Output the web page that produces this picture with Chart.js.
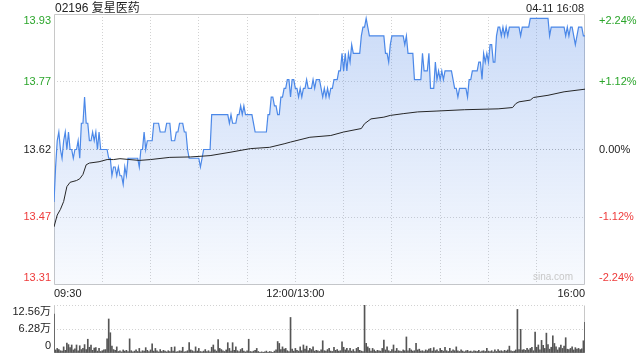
<!DOCTYPE html>
<html><head><meta charset="utf-8">
<script src="https://cdn.jsdelivr.net/npm/chart.js@4.4.0/dist/chart.umd.min.js"></script>
<style>
html,body{margin:0;padding:0;background:#fff;width:640px;height:360px;overflow:hidden;}
#wrap{position:relative;width:640px;height:360px;font-family:"Liberation Sans",Arial,"Noto Sans CJK SC",sans-serif;}
#c1{position:absolute;left:0;top:0;}
#c2{position:absolute;left:0;top:298px;}
.t{position:absolute;color:#222;white-space:nowrap;line-height:14px;}
</style></head><body>
<div id="wrap">
<canvas id="c1" width="640" height="300"></canvas>
<canvas id="c2" width="640" height="62"></canvas>
<div class="t" style="left:55px;top:1px;font-size:12px;">02196 复星医药</div>
<div class="t" style="right:56px;top:1px;font-size:11px;">04-11 16:08</div>
<div class="t" style="right:67px;top:271px;font-size:10px;line-height:12px;color:#c8c8c8;">sina.com</div>
</div>
<script>
// ---- data ----
const price = [
13.50,13.58,13.64,13.66,13.62,13.60,13.64,13.66,13.62,13.66,
13.62,13.62,13.60,13.62,13.62,13.64,13.60,13.68,13.68,13.74,
13.68,13.68,13.64,13.64,13.66,13.64,13.66,13.62,13.66,13.62,
13.62,13.62,13.62,13.62,13.60,13.60,13.56,13.58,13.58,13.56,
13.58,13.56,13.56,13.54,13.58,13.56,13.60,13.60,13.60,13.60,
13.60,13.60,13.60,13.58,13.62,13.62,13.66,13.62,13.64,13.64,
13.64,13.64,13.68,13.68,13.68,13.68,13.66,13.66,13.66,13.66,
13.68,13.68,13.68,13.64,13.64,13.64,13.66,13.66,13.68,13.68,
13.68,13.66,13.66,13.62,13.60,13.60,13.60,13.60,13.60,13.60,
13.60,13.58,13.60,13.62,13.62,13.62,13.62,13.62,13.70,13.70,
13.70,13.70,13.70,13.70,13.70,13.70,13.70,13.70,13.70,13.68,
13.70,13.68,13.68,13.68,13.70,13.70,13.72,13.70,13.72,13.70,
13.70,13.70,13.70,13.70,13.68,13.66,13.66,13.66,13.66,13.66,
13.66,13.66,13.66,13.70,13.70,13.74,13.74,13.72,13.72,13.70,
13.70,13.74,13.74,13.76,13.76,13.78,13.78,13.74,13.78,13.78,
13.76,13.76,13.74,13.76,13.74,13.76,13.76,13.78,13.76,13.76,
13.76,13.78,13.76,13.78,13.78,13.78,13.76,13.74,13.76,13.74,
13.76,13.74,13.76,13.76,13.78,13.78,13.78,13.80,13.80,13.84,
13.80,13.84,13.80,13.84,13.82,13.86,13.84,13.84,13.84,13.84,
13.84,13.88,13.90,13.90,13.92,13.90,13.88,13.88,13.88,13.88,
13.88,13.88,13.88,13.88,13.88,13.88,13.84,13.84,13.82,13.86,
13.88,13.88,13.88,13.88,13.88,13.88,13.88,13.88,13.86,13.88,
13.84,13.84,13.84,13.84,13.78,13.78,13.78,13.78,13.78,13.84,
13.80,13.80,13.80,13.84,13.76,13.76,13.76,13.82,13.78,13.80,
13.78,13.80,13.78,13.80,13.80,13.80,13.80,13.80,13.78,13.76,
13.76,13.74,13.76,13.76,13.76,13.76,13.76,13.74,13.78,13.78,
13.80,13.80,13.80,13.80,13.82,13.82,13.78,13.84,13.82,13.84,
13.82,13.86,13.86,13.82,13.82,13.88,13.90,13.90,13.88,13.90,
13.88,13.90,13.88,13.90,13.90,13.90,13.90,13.90,13.90,13.90,
13.88,13.90,13.90,13.90,13.90,13.90,13.92,13.92,13.92,13.92,
13.92,13.92,13.92,13.92,13.92,13.92,13.92,13.92,13.88,13.90,
13.90,13.90,13.90,13.90,13.90,13.90,13.90,13.90,13.88,13.90,
13.88,13.90,13.90,13.88,13.86,13.88,13.90,13.90,13.90,13.88,
13.88
];
const avgMinute = [0,2,4,6,8,10,14,16,18,20,22,28,33,37,41,53,60,72,85,97,110,122,134,143,147,159,172,180,191,193,197,205,209,217,226,238,255,276,285,287,289,296,298,307,317,330];
const avgPrice  = [13.443,13.47,13.483,13.501,13.535,13.545,13.549,13.553,13.563,13.585,13.589,13.592,13.597,13.597,13.599,13.595,13.597,13.602,13.603,13.606,13.614,13.622,13.625,13.633,13.637,13.648,13.652,13.66,13.668,13.679,13.69,13.694,13.698,13.702,13.706,13.708,13.711,13.713,13.716,13.725,13.729,13.733,13.739,13.744,13.752,13.758];
const volume = [
10.2,0.8,1.2,0.9,0.6,0.5,1.6,0.7,2.6,2.2,
1.4,2.1,0.8,1.1,2.1,0.6,1.9,0.9,1.2,2.2,
0.9,3.6,1.5,2.1,0.7,1.3,1.4,0.5,1.2,0.4,
0.6,0.8,0.9,3.7,8.9,5.3,1.8,0.9,0.7,1.6,
0.4,0.6,0.3,0.8,0.5,0.7,0.4,3.7,0.6,0.3,
0.5,0.8,0.4,1.2,0.3,0.6,0.5,1.4,0.7,0.4,
0.8,2.4,0.5,1.2,0.6,0.3,0.9,0.4,0.7,0.5,
0.3,0.6,0.4,1.5,0.5,1.6,0.3,0.4,0.6,0.5,
1.5,0.3,0.4,0.6,2.7,0.8,0.6,0.4,1.6,0.5,
1.2,0.4,0.3,0.5,0.9,0.4,0.6,0.3,1.5,2.1,
0.8,0.5,3.5,1.2,0.9,0.6,0.4,0.8,2.7,1.2,
0.5,2.7,0.7,1.6,0.6,0.4,0.9,1.2,0.5,0.3,
0.6,3.6,0.4,0.3,0.5,0.7,1.2,0.4,0.2,0.3,
0.2,0.3,0.5,0.2,0.4,0.3,0.2,0.5,0.8,3.0,
2.5,0.9,1.6,1.0,1.2,0.6,0.4,9.3,1.0,0.5,
1.2,0.7,0.5,1.6,0.6,2.1,1.0,1.8,0.6,1.2,
0.9,1.6,0.5,0.7,0.6,0.4,0.8,3.2,0.6,0.5,
0.9,1.2,0.5,0.4,1.5,0.7,0.9,0.5,0.6,2.9,
1.5,0.8,1.2,0.6,1.2,0.5,0.9,0.4,1.2,1.5,
0.7,0.5,0.4,12.56,2.5,1.6,1.2,0.5,1.2,0.8,
0.4,0.7,0.6,0.5,1.2,3.4,0.8,1.6,0.6,0.4,
0.9,2.1,0.5,1.2,0.6,0.5,0.4,0.8,0.6,4.2,
0.6,1.2,0.8,0.5,0.6,2.5,0.8,1.0,0.5,0.6,
0.4,0.8,0.6,1.0,1.2,0.5,1.4,0.6,0.8,0.4,
1.2,0.7,0.5,1.5,0.6,0.4,1.2,0.5,0.8,0.6,
1.6,0.6,0.4,0.8,0.5,0.3,0.6,0.7,0.4,0.5,
0.3,0.6,0.5,0.4,0.7,0.3,0.5,0.6,0.4,1.2,
0.5,0.4,0.6,0.3,0.8,0.4,0.9,0.5,0.6,0.4,
0.7,0.5,0.8,1.8,0.6,0.4,0.5,0.8,11.4,0.9,
6.2,0.8,0.9,0.7,1.2,0.8,1.2,1.5,0.6,5.5,
1.5,2.1,0.8,3.3,2.0,1.2,5.2,2.2,1.0,1.5,
4.5,2.5,1.6,0.8,1.4,2.1,1.2,1.8,4.0,1.0,
0.9,1.2,1.6,0.8,1.4,1.0,1.2,0.9,1.1,3.2,
8.0
];
const priceTickLabels = ['13.31','13.47','13.62','13.77','13.93'];
const pctTickLabels   = ['-2.24%','-1.12%','0.00%','+1.12%','+2.24%'];
const priceMin = 13.31, priceMax = 13.93;
const timeTickPos = [0,30,60,90,120,150,180,210,240,270,300,330];
const timeTickLabels = {0:'09:30',150:'12:00/13:00',330:'16:00'};
const volTickValues = [0,6.28,12.56];
const volTickLabels = ['0','6.28万','12.56万'];

// ---- styles ----
const GREEN='#2ba52b', RED='#ee3a3a', DARK='#222';
const tickColors=[RED,RED,DARK,GREEN,GREEN];
const FONT={family:'"Liberation Sans", Arial, "Noto Sans CJK SC", sans-serif', size:11};
const GRID='#d2d2d2';

function edgeLabel(lbl, i, n){
  if(i===n-1) return ['', lbl];
  if(i===0) return [lbl, ''];
  return lbl;
}
function yTicks(scale){
  scale.ticks = [0,1,2,3,4].map(i=>({value: priceMin + i*(priceMax-priceMin)/4}));
}
function fixWidth(w){ return s=>{ s.width=w; s.paddingTop=0; s.paddingBottom=0; }; }

const framePlugin = {
  id:'frame',
  beforeDatasetsDraw(chart, args, opts){
    const a=chart.chartArea, c=chart.ctx;
    c.save(); c.strokeStyle='#c8c8c8'; c.lineWidth=1; c.setLineDash([]);
    c.beginPath();
    const L=Math.round(a.left)+0.5, R=Math.round(a.right)-0.5, T=Math.round(a.top)+0.5, B=Math.round(a.bottom)-0.5;
    if(opts.top){ c.moveTo(L,T); c.lineTo(R,T); }
    c.moveTo(L,T); c.lineTo(L,B);
    c.moveTo(R,T); c.lineTo(R,B);
    c.moveTo(L,B); c.lineTo(R,B);
    c.stroke(); c.restore();
  }
};

new Chart(document.getElementById('c1'), {
  type:'line',
  data:{datasets:[
    {data: avgMinute.map((m,i)=>({x:m,y:avgPrice[i]})), borderColor:'#262626', borderWidth:1, pointRadius:0, fill:false, tension:0, order:1},
    {data: price.map((v,i)=>({x:i,y:v})), borderColor:'#4b88e8', borderWidth:1.2, pointRadius:0, tension:0, order:2,
     fill:'start',
     backgroundColor:(ctx)=>{
       const a=ctx.chart.chartArea; if(!a) return 'rgba(90,140,230,0.15)';
       const g=ctx.chart.ctx.createLinearGradient(0,a.top,0,a.bottom);
       g.addColorStop(0,'rgba(80,135,230,0.30)');
       g.addColorStop(1,'rgba(80,135,230,0.04)');
       return g;
     }}
  ]},
  options:{
    responsive:false, animation:false, devicePixelRatio:1,
    layout:{padding:{top:14,left:0,right:0,bottom:0}},
    plugins:{legend:{display:false}, tooltip:{enabled:false}, frame:{top:true}},
    scales:{
      x:{type:'linear', min:0, max:330, position:'bottom',
         afterBuildTicks:s=>{ s.ticks = timeTickPos.map(v=>({value:v})); },
         afterFit:s=>{ s.height=15; s.paddingLeft=0; s.paddingRight=0; },
         ticks:{autoSkip:false, maxRotation:0, align:'inner', padding:2, color:DARK, font:FONT,
                callback:v=>timeTickLabels[v]||''},
         grid:{drawTicks:false, color:c=>(c.index===0||c.index===11)?'rgba(0,0,0,0)':GRID, lineWidth:1},
         border:{display:false, dash:[1,2]}},
      y:{type:'linear', position:'left', min:priceMin, max:priceMax,
         afterBuildTicks:yTicks, afterFit:fixWidth(54),
         ticks:{autoSkip:false, padding:3, font:FONT, color:c=>tickColors[c.index],
                callback:(v,i)=>edgeLabel(priceTickLabels[i],i,5)},
         grid:{drawTicks:false, color:c=>(c.index===0||c.index===4)?'rgba(0,0,0,0)':(c.index===2?'#b4b4b4':GRID)},
         border:{display:false, dash:[1,2]}},
      y2:{type:'linear', position:'right', min:priceMin, max:priceMax,
         afterBuildTicks:yTicks, afterFit:fixWidth(55),
         ticks:{autoSkip:false, padding:6, font:FONT, color:c=>tickColors[c.index],
                callback:(v,i)=>edgeLabel(pctTickLabels[i],i,5)},
         grid:{display:false}, border:{display:false}}
    }
  },
  plugins:[framePlugin]
});

new Chart(document.getElementById('c2'), {
  type:'bar',
  data:{datasets:[{data: volume.map((v,i)=>({x:i,y:v})), backgroundColor:'#555', barThickness:1, borderWidth:0}]},
  options:{
    responsive:false, animation:false, devicePixelRatio:1,
    layout:{padding:{top:7,left:0,right:55,bottom:7}},
    plugins:{legend:{display:false}, tooltip:{enabled:false}, frame:{top:false}},
    scales:{
      x:{type:'linear', min:0, max:330, offset:false, display:false},
      y:{type:'linear', position:'left', min:0, max:12.56,
         afterBuildTicks:s=>{ s.ticks = volTickValues.map(v=>({value:v})); },
         afterFit:fixWidth(54),
         ticks:{autoSkip:false, padding:3, font:FONT, color:DARK, callback:(v,i)=>edgeLabel(volTickLabels[i],i,3)},
         grid:{drawTicks:false, color:c=>c.index===0?'rgba(0,0,0,0)':GRID},
         border:{display:false, dash:[1,2]}}
    }
  },
  plugins:[framePlugin]
});
</script>
</body></html>
